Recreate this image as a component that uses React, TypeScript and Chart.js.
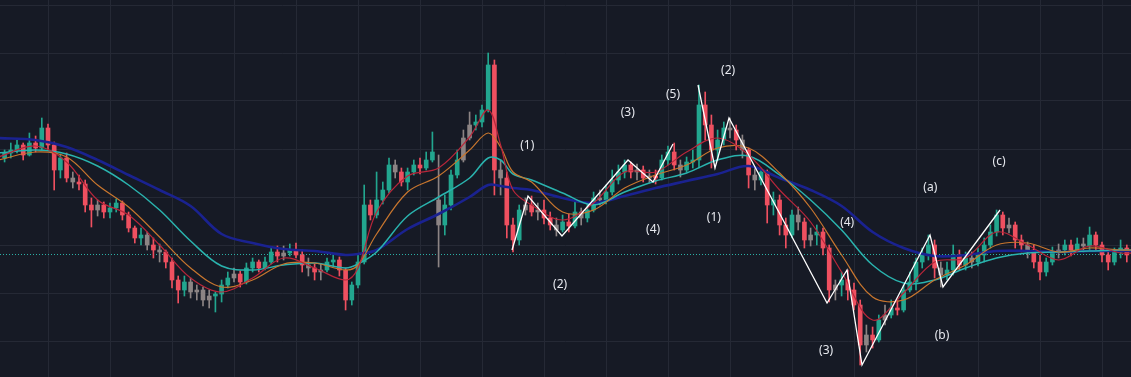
import { useEffect, useRef } from 'react';
import { Chart, registerables } from 'chart.js';

Chart.register(...registerables);

// Candle index of the first bar (x value on the linear time axis)
const FIRST_INDEX = 3;

const opens = [
  242, 247, 250, 255, 245, 257, 252, 272, 255, 230,
  242, 222, 218, 216, 195, 190, 195, 188, 192, 197,
  185, 172, 162, 165, 155, 150, 148, 138, 120, 110,
  118, 108, 110, 100, 104, 106, 115, 122, 126, 118,
  132, 138, 132, 138, 148, 144, 147, 150, 145, 135,
  132, 128, 130, 138, 140, 130, 100, 115, 138, 195,
  185, 200, 210, 235, 228, 218, 228, 235, 232, 240,
  200, 175, 195, 225, 240, 262, 275, 278, 290, 335,
  230, 222, 175, 160, 190, 195, 188, 190, 182, 175,
  170, 178, 174, 188, 182, 190, 202, 200, 208, 220,
  228, 235, 228, 230, 222, 224, 222, 240, 248, 235,
  230, 238, 240, 295, 275, 250, 260, 272, 270, 260,
  250, 225, 220, 228, 195, 200, 175, 165, 185, 178,
  160, 165, 168, 152, 110, 115, 120, 110, 95, 55,
  65, 60, 80, 85, 92, 90, 110, 118, 138, 145,
  155, 132, 125, 130, 145, 135, 142, 138, 145, 155,
  168, 185, 172, 175, 160, 155, 150, 138, 128, 138,
  148, 150, 155, 150, 156, 154, 165, 155, 145, 138,
  148, 152,
];

const highs = [
  250, 257, 260, 257, 267, 264, 282, 276, 258, 246,
  247, 228, 225, 220, 202, 200, 198, 197, 201, 199,
  188, 174, 172, 168, 162, 156, 150, 142, 124, 124,
  122, 115, 113, 110, 108, 120, 128, 132, 129, 137,
  142, 140, 143, 152, 154, 154, 156, 157, 150, 142,
  136, 136, 142, 145, 143, 132, 118, 145, 215, 200,
  228, 218, 242, 240, 232, 232, 240, 242, 248, 268,
  245, 205, 230, 250, 270, 288, 285, 295, 347, 340,
  240, 228, 182, 195, 202, 204, 197, 200, 188, 182,
  185, 186, 200, 192, 196, 208, 210, 215, 230, 235,
  240, 238, 236, 234, 230, 230, 245, 254, 257, 240,
  243, 250, 315, 308, 285, 270, 278, 282, 275, 265,
  252, 232, 232, 230, 208, 205, 182, 190, 193, 182,
  172, 175, 172, 155, 120, 128, 130, 117, 100, 75,
  73, 85, 95, 100, 100, 115, 128, 142, 152, 165,
  160, 138, 138, 155, 150, 148, 148, 152, 162, 175,
  190, 188, 182, 178, 165, 158, 155, 145, 142, 153,
  156, 160, 160, 162, 162, 173, 168, 158, 150, 152,
  160, 155,
];

const lows = [
  238, 242, 247, 240, 244, 248, 250, 250, 210, 222,
  218, 212, 210, 188, 173, 184, 182, 182, 188, 180,
  168, 157, 155, 150, 142, 138, 132, 112, 97, 104,
  102, 100, 94, 92, 88, 98, 112, 118, 113, 116,
  128, 128, 130, 136, 138, 140, 144, 142, 128, 124,
  120, 120, 128, 134, 124, 90, 95, 112, 136, 180,
  182, 196, 207, 222, 214, 210, 225, 226, 230, 238,
  133, 165, 190, 222, 238, 260, 270, 273, 288, 205,
  205, 162, 148, 155, 185, 184, 180, 176, 170, 164,
  168, 168, 172, 175, 178, 188, 195, 196, 205, 216,
  222, 222, 220, 218, 217, 216, 220, 235, 230, 223,
  228, 232, 232, 260, 232, 240, 255, 262, 250, 242,
  212, 210, 215, 177, 185, 165, 152, 162, 170, 152,
  154, 155, 145, 98, 100, 104, 100, 90, 35, 48,
  52, 58, 75, 82, 85, 88, 108, 110, 132, 140,
  122, 113, 120, 125, 130, 130, 132, 134, 138, 152,
  164, 165, 167, 152, 148, 142, 132, 120, 124, 135,
  142, 145, 144, 148, 148, 150, 150, 138, 130, 135,
  142, 138,
];

const closes = [
  247, 250, 255, 245, 257, 252, 272, 255, 230, 242,
  222, 218, 216, 195, 190, 195, 188, 192, 197, 185,
  172, 162, 165, 155, 150, 148, 138, 120, 110, 118,
  108, 110, 100, 104, 106, 115, 122, 126, 118, 132,
  138, 132, 138, 148, 144, 147, 150, 145, 135, 132,
  128, 130, 138, 140, 130, 100, 115, 138, 195, 185,
  200, 210, 235, 228, 218, 228, 235, 232, 240, 248,
  175, 195, 225, 240, 262, 275, 278, 290, 335, 230,
  222, 175, 160, 190, 195, 188, 190, 182, 175, 170,
  178, 174, 188, 182, 190, 202, 200, 208, 220, 228,
  235, 228, 230, 222, 224, 222, 240, 248, 235, 230,
  238, 240, 295, 275, 250, 260, 272, 270, 260, 250,
  225, 220, 228, 195, 200, 175, 165, 185, 178, 160,
  165, 168, 152, 110, 115, 120, 110, 95, 55, 65,
  60, 80, 85, 92, 90, 110, 118, 138, 145, 155,
  132, 125, 130, 145, 135, 142, 138, 145, 155, 168,
  185, 172, 175, 160, 155, 150, 138, 128, 138, 148,
  150, 155, 150, 156, 154, 165, 155, 145, 138, 148,
  152, 145,
];

// candles drawn in neutral gray
const grayCandles = [
  14, 18, 26, 28, 33, 34, 35, 36, 40, 48, 52, 54, 66, 73, 77, 78, 83, 87, 89, 92,
  96, 99, 105, 107, 112, 120, 122, 124, 131, 133, 137, 142, 145, 154, 159, 165, 168, 173, 177,
];

// moving averages sampled along the time axis
const maX = [2, 8, 13, 18, 23, 28, 33, 38, 43, 48, 53, 58, 60, 63, 68, 73, 78, 81, 83, 85, 88, 93, 98, 103, 108, 113, 118, 123, 128, 133, 138, 143, 148, 153, 158, 163, 168, 173, 178, 183, 185];
const maFast = [243, 254, 238, 200, 185, 155, 122, 108, 122, 142, 132, 120, 132, 188, 224, 232, 263, 290, 255, 210, 195, 180, 197, 228, 228, 248, 262, 245, 210, 178, 128, 80, 107, 138, 142, 168, 155, 140, 154, 147, 147];
const maMid = [240, 248, 243, 215, 193, 163, 132, 113, 120, 136, 137, 130, 135, 166, 208, 224, 250, 267, 253, 228, 218, 188, 190, 212, 225, 235, 252, 252, 227, 192, 145, 103, 100, 120, 135, 155, 157, 148, 152, 150, 150];
const maSlow = [247, 250, 246, 234, 215, 190, 159, 134, 130, 135, 137, 132, 136, 148, 184, 203, 222, 242, 240, 226, 220, 207, 195, 208, 219, 227, 240, 244, 225, 200, 170, 135, 117, 120, 132, 142, 147, 148, 149, 150, 150];
const maLong = [262, 260, 253, 240, 225, 210, 194, 166, 157, 151, 149, 145, 146, 150, 171, 186, 203, 215, 214, 212, 210, 202, 197, 204, 212, 219, 226, 234, 222, 210, 194, 168, 152, 144, 145, 149, 149, 148, 149, 149, 149];

// Elliott wave zigzags
const wave1X = [84.84, 87.42, 92.9, 103.55, 107.58, 110.81];
const wave1Y = [150, 204, 164, 240, 218, 256];
const wave2X = [114.84, 117.58, 119.84, 135.65, 138.87, 141.29, 152.26, 154.35, 163.55];
const wave2Y = [315, 232, 282, 97, 130, 35, 165, 113, 190];

const waveLabels = ['(1)', '(2)', '(3)', '(4)', '(5)', '(2)', '(1)', '(3)', '(4)', '(a)', '(b)', '(c)'];
const waveLabelX = [87.3, 92.6, 103.5, 107.6, 110.8, 119.7, 117.4, 135.5, 138.9, 152.3, 154.2, 163.4];
const waveLabelY = [254, 115, 287, 170, 305, 329, 182, 49, 177, 212, 64, 238];

const lastPrice = 146;

const xGrid = [10, 20, 30, 40, 50, 60, 70, 80, 90, 100, 110, 120, 130, 140, 150, 160, 170, 180];
const yGrid = [59, 107, 155, 203, 251, 299, 347, 395];

const BG = '#161A25';
const GRID = '#252935';
const UP = '#22A68F';
const DOWN = '#EF5060';
const GRAY = '#8C8484';

export default function App() {
  const ref = useRef<HTMLCanvasElement | null>(null);

  useEffect(() => {
    const canvas = ref.current;
    if (!canvas) return;

    const colors = opens.map((o, k) =>
      grayCandles.includes(FIRST_INDEX + k) ? GRAY : closes[k] >= o ? UP : DOWN
    );

    const ma = (vals: number[]) => maX.map((x, k) => ({ x, y: vals[k] }));

    const bgPlugin = {
      id: 'bg',
      beforeDraw(chart: any) {
        const { ctx, width, height } = chart;
        ctx.save();
        ctx.fillStyle = BG;
        ctx.fillRect(0, 0, width, height);
        ctx.restore();
      },
    };

    const priceLine = {
      id: 'priceLine',
      beforeDatasetsDraw(chart: any) {
        const { ctx, chartArea, scales } = chart;
        const y = Math.round(scales.y.getPixelForValue(lastPrice)) + 0.5;
        ctx.save();
        ctx.strokeStyle = '#2BB0A6';
        ctx.lineWidth = 1;
        ctx.setLineDash([1, 2]);
        ctx.beginPath();
        ctx.moveTo(chartArea.left, y);
        ctx.lineTo(chartArea.right, y);
        ctx.stroke();
        ctx.restore();
      },
    };

    const labelsPlugin = {
      id: 'waveLabels',
      afterDatasetsDraw(chart: any) {
        const { ctx, scales } = chart;
        ctx.save();
        ctx.font = '12px "Noto Sans", sans-serif';
        ctx.fillStyle = '#E6E8EE';
        ctx.textAlign = 'center';
        ctx.textBaseline = 'middle';
        waveLabels.forEach((t, k) => {
          ctx.fillText(t, scales.x.getPixelForValue(waveLabelX[k]), scales.y.getPixelForValue(waveLabelY[k]));
        });
        ctx.restore();
      },
    };

    const chart = new Chart(canvas, {
      type: 'bar',
      data: {
        datasets: [
          {
            type: 'line',
            label: 'wave A',
            data: wave1X.map((x, k) => ({ x, y: wave1Y[k] })),
            borderColor: '#FFFFFF',
            borderWidth: 1.3,
            pointRadius: 0,
            tension: 0,
            order: 0,
          },
          {
            type: 'line',
            label: 'wave B',
            data: wave2X.map((x, k) => ({ x, y: wave2Y[k] })),
            borderColor: '#FFFFFF',
            borderWidth: 1.3,
            pointRadius: 0,
            tension: 0,
            order: 0,
          },
          {
            type: 'line',
            label: 'MA fast',
            data: ma(maFast),
            borderColor: '#B8263A',
            borderWidth: 1.2,
            pointRadius: 0,
            tension: 0.35,
            order: 1,
          },
          {
            type: 'line',
            label: 'MA mid',
            data: ma(maMid),
            borderColor: '#C8762E',
            borderWidth: 1.2,
            pointRadius: 0,
            tension: 0.35,
            order: 2,
          },
          {
            type: 'line',
            label: 'MA slow',
            data: ma(maSlow),
            borderColor: '#2AB3AE',
            borderWidth: 1.5,
            pointRadius: 0,
            tension: 0.35,
            order: 3,
          },
          {
            type: 'line',
            label: 'MA long',
            data: ma(maLong),
            borderColor: '#1A2290',
            borderWidth: 2.6,
            pointRadius: 0,
            tension: 0.35,
            order: 4,
          },
          {
            type: 'bar',
            label: 'bodies',
            data: opens.map((o, k) => ({ x: FIRST_INDEX + k, y: [o, closes[k]] })) as any,
            backgroundColor: colors,
            borderWidth: 0,
            barThickness: 4,
            minBarLength: 1,
            grouped: false,
            order: 5,
          },
          {
            type: 'bar',
            label: 'wicks',
            data: highs.map((h, k) => ({ x: FIRST_INDEX + k, y: [lows[k], h] })) as any,
            backgroundColor: colors,
            borderWidth: 0,
            barThickness: 1,
            grouped: false,
            order: 6,
          },
        ] as any,
      },
      options: {
        animation: false,
        responsive: false,
        maintainAspectRatio: false,
        layout: { padding: 0 },
        plugins: { legend: { display: false }, tooltip: { enabled: false } },
        events: [],
        scales: {
          x: {
            type: 'linear',
            min: 2.258,
            max: 184.677,
            offset: false,
            afterBuildTicks: (scale: any) => {
              scale.ticks = xGrid.map((v) => ({ value: v }));
            },
            ticks: { display: false },
            grid: { color: GRID, drawTicks: false, offset: false },
            border: { display: false },
          },
          y: {
            type: 'linear',
            min: 23,
            max: 400,
            beginAtZero: false,
            afterBuildTicks: (scale: any) => {
              scale.ticks = yGrid.map((v) => ({ value: v }));
            },
            ticks: { display: false },
            grid: { color: GRID, drawTicks: false },
            border: { display: false },
          },
        },
      } as any,
      plugins: [bgPlugin, priceLine, labelsPlugin],
    });

    return () => chart.destroy();
  }, []);

  return (
    <div style={{ position: 'fixed', left: 0, top: 0, width: 1131, height: 377, background: BG }}>
      <canvas ref={ref} width={1131} height={377} style={{ display: 'block' }} />
    </div>
  );
}
